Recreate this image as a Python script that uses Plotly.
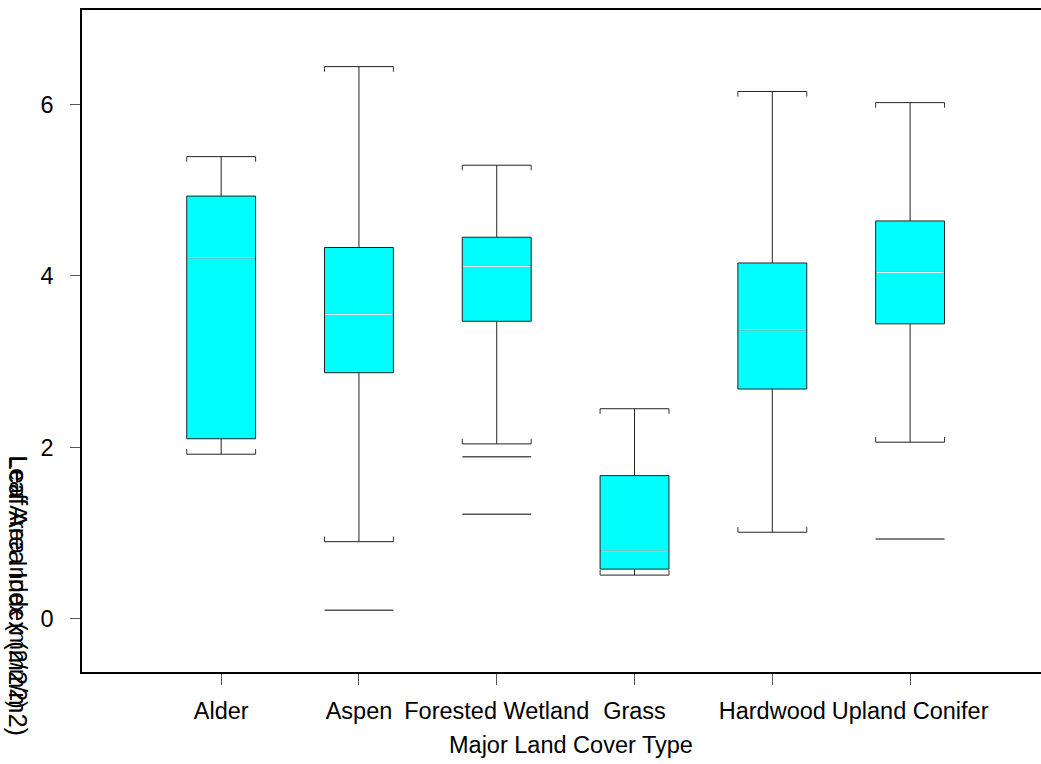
import plotly.graph_objects as go

# Leaf area index by major land cover type (box summaries)
categories = ["Alder", "Aspen", "Forested Wetland", "Grass", "Hardwood", "Upland Conifer"]
upper_fence = [5.39, 6.44, 5.29, 2.45, 6.15, 6.02]
q3 = [4.93, 4.33, 4.45, 1.67, 4.15, 4.64]
median = [4.21, 3.55, 4.11, 0.79, 3.37, 4.04]
q1 = [2.10, 2.87, 3.47, 0.58, 2.68, 3.44]
lower_fence = [1.92, 0.90, 2.04, 0.51, 1.01, 2.06]
outliers = {
    "Aspen": [0.10],
    "Forested Wetland": [1.89, 1.22],
    "Upland Conifer": [0.93],
}
y_ticks = [0, 2, 4, 6]

BOX_W = 0.5
HALF = BOX_W / 2
CAP_TICK = 0.06
FONT = "Liberation Sans, Arial, sans-serif"
FS = 23.5

xs = list(range(len(categories)))

fig = go.Figure()

fig.add_trace(go.Box(
    x=xs, q1=q1, median=median, q3=q3,
    lowerfence=lower_fence, upperfence=upper_fence,
    width=BOX_W, whiskerwidth=1,
    fillcolor="#00ffff",
    line=dict(color="#222222", width=1),
    boxpoints=False, hoverinfo="skip", showlegend=False,
))

# white median bars
mx, my = [], []
for i, m in zip(xs, median):
    mx += [i - HALF + 0.005, i + HALF - 0.005, None]
    my += [m, m, None]
fig.add_trace(go.Scatter(x=mx, y=my, mode="lines",
                         line=dict(color="#f4ffff", width=1),
                         hoverinfo="skip", showlegend=False))

# small end ticks on the whisker caps
bx, by = [], []
for i, lo, hi in zip(xs, lower_fence, upper_fence):
    for side in (-HALF, HALF):
        bx += [i + side, i + side, None, i + side, i + side, None]
        by += [hi, hi - CAP_TICK, None, lo, lo + CAP_TICK, None]
fig.add_trace(go.Scatter(x=bx, y=by, mode="lines",
                         line=dict(color="#333333", width=1),
                         hoverinfo="skip", showlegend=False))

# outlying values drawn as horizontal bars
ox, oy = [], []
for name, vals in outliers.items():
    i = categories.index(name)
    for v in vals:
        ox += [i - HALF, i + HALF, None]
        oy += [v, v, None]
fig.add_trace(go.Scatter(x=ox, y=oy, mode="lines",
                         line=dict(color="#555555", width=1.5),
                         hoverinfo="skip", showlegend=False))

fig.update_layout(
    width=1041, height=764,
    margin=dict(l=82, r=0, t=10, b=92),
    paper_bgcolor="white", plot_bgcolor="white",
    font=dict(family=FONT, size=FS, color="black"),
    showlegend=False,
    xaxis=dict(
        range=[-1.01, 5.95],
        tickmode="array", tickvals=xs, ticktext=categories,
        showline=True, mirror=True, linecolor="black", linewidth=1.5,
        ticks="outside", ticklen=11, tickcolor="#555555", tickwidth=1,
        ticklabelstandoff=6,
        showgrid=False, zeroline=False,
        tickfont=dict(family=FONT, size=FS, color="black"),
    ),
    yaxis=dict(
        range=[-0.62, 7.10],
        tickmode="array", tickvals=y_ticks,
        showline=True, linecolor="black", linewidth=1.5,
        ticks="outside", ticklen=10, tickcolor="#555555", tickwidth=1,
        ticklabelstandoff=12,
        showgrid=False, zeroline=False,
        tickfont=dict(family=FONT, size=FS, color="black"),
    ),
    annotations=[
        dict(text="Major Land Cover Type", xref="paper", yref="paper",
             x=0.51, y=-0.110, xanchor="center", yanchor="middle",
             showarrow=False, font=dict(family=FONT, size=FS, color="black")),
        dict(text="Leaf Area Index (m2/m2)", xref="paper", yref="paper",
             x=-0.0667, y=0.3308, xanchor="center", yanchor="top", textangle=90,
             showarrow=False, font=dict(family=FONT, size=23, color="black")),
        dict(text="Leaf Area Index (m2/m2)", xref="paper", yref="paper",
             x=-0.0667, y=0.3308, xanchor="center", yanchor="top", textangle=90,
             showarrow=False, font=dict(family=FONT, size=25.5, color="black")),
    ],
)

fig.write_html("out.html")
